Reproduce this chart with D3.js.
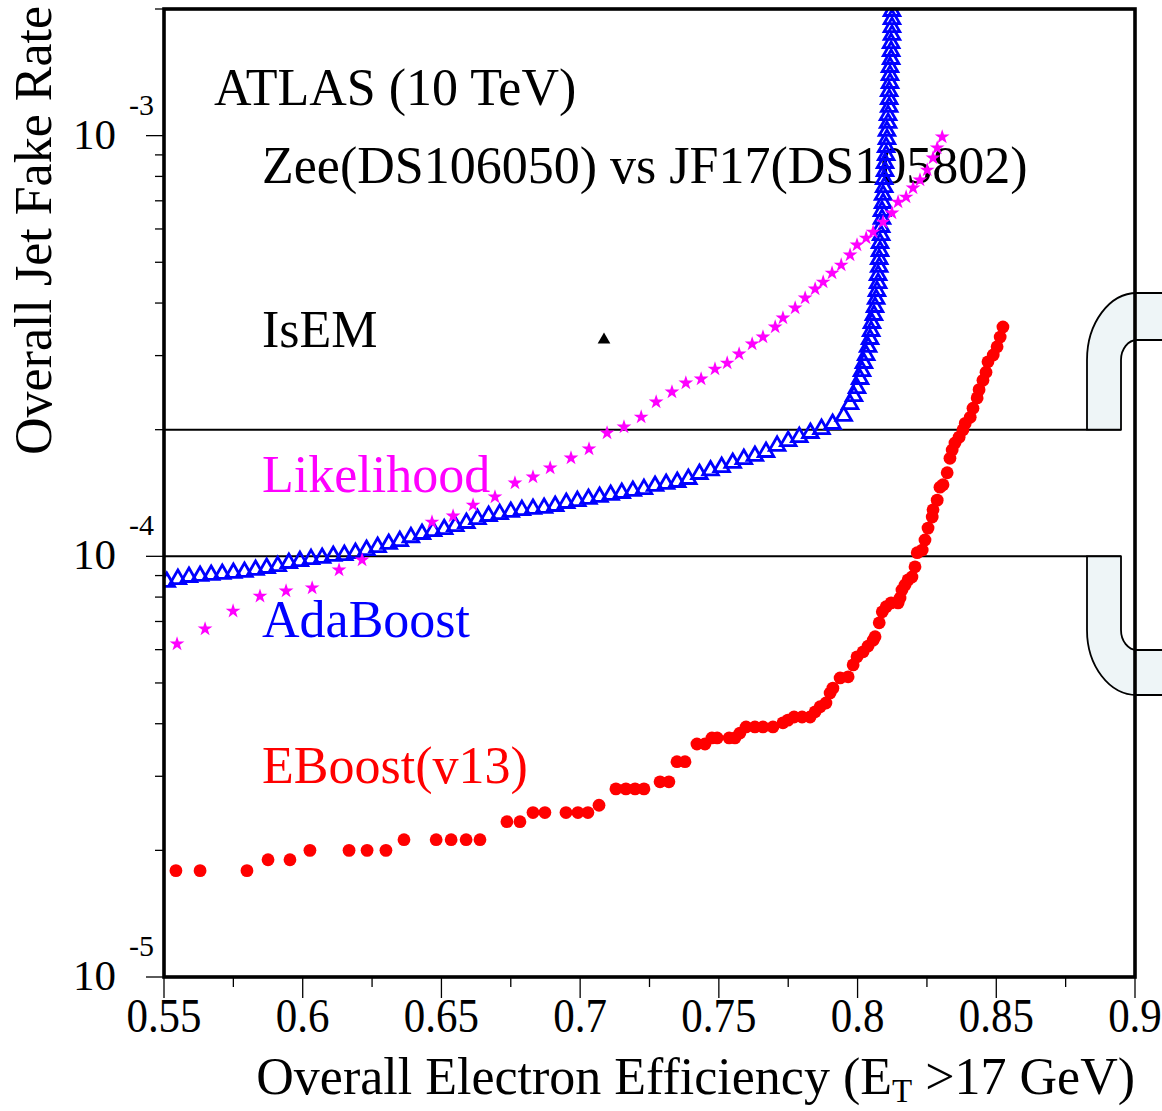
<!DOCTYPE html>
<html>
<head>
<meta charset="utf-8">
<script src="https://cdn.jsdelivr.net/npm/d3@7"></script>
<style>
body{margin:0;background:#fff;}
text{font-family:"Liberation Serif","Times New Roman",serif;}
</style>
</head>
<body>
<script>
var W=1162,H=1111;

// ---- data ----
var xTicks=[0.55,0.6,0.65,0.7,0.75,0.8,0.85,0.9];
var xTickLabels=["0.55","0.6","0.65","0.7","0.75","0.8","0.85","0.9"];
var yDecades=[1e-3,1e-4,1e-5];
var yDecadeExp=["-3","-4","-5"];

var isemEff=[0.7086];
var isemRate=[3.27e-4];

var likeEff=[0.5547,0.5648,0.5749,0.5846,0.5940,0.6034,0.6131,0.6214,0.6466,0.6542,0.6614,0.6693,0.6765,0.6830,0.6892,0.6967,0.7032,0.7097,0.7158,0.7220,0.7274,0.7331,0.7381,0.7436,0.7486,0.7530,0.7573,0.7620,0.7659,0.7703,0.7731,0.7775,0.7811,0.7847,0.7876,0.7908,0.7941,0.7973,0.7998,0.8031,0.8056,0.8092,0.8124,0.8146,0.8175,0.8200,0.8225,0.8251,0.8272,0.8287,0.8305];
var likeRate=[6.19e-5,6.72e-5,7.41e-5,8.04e-5,8.27e-5,8.41e-5,9.28e-5,9.80e-5,1.206e-4,1.247e-4,1.324e-4,1.384e-4,1.494e-4,1.544e-4,1.622e-4,1.713e-4,1.800e-4,1.964e-4,2.030e-4,2.143e-4,2.327e-4,2.458e-4,2.582e-4,2.639e-4,2.787e-4,2.880e-4,3.026e-4,3.197e-4,3.322e-4,3.509e-4,3.686e-4,3.893e-4,4.112e-4,4.320e-4,4.487e-4,4.714e-4,4.925e-4,5.203e-4,5.495e-4,5.709e-4,5.900e-4,6.232e-4,6.547e-4,6.953e-4,7.146e-4,7.507e-4,7.843e-4,8.284e-4,8.848e-4,9.35e-4,9.93e-4];

var adaEff=[0.551,0.555,0.559,0.563,0.567,0.571,0.575,0.579,0.583,0.587,0.591,0.595,0.599,0.603,0.607,0.611,0.615,0.619,0.623,0.627,0.631,0.635,0.639,0.643,0.647,0.651,0.655,0.659,0.663,0.667,0.671,0.675,0.679,0.683,0.687,0.691,0.695,0.699,0.703,0.707,0.711,0.715,0.719,0.723,0.727,0.731,0.735,0.739,0.743,0.747,0.751,0.755,0.759,0.763,0.767,0.771,0.775,0.779,0.783,0.787,0.791,0.795,
 0.7973,0.7987,0.7998,0.8009,0.8016,0.8023,0.8031,0.8038,0.8045,0.8049,0.8052,0.8059,0.8063,0.8067,0.8070,0.8074,0.8074,0.8078,0.8078,0.8081,0.8081,0.8085,0.8085,0.8088,0.8088,0.8092,0.8092,0.8096,0.8096,0.8099,0.8099,0.8103,0.8103,0.8106,0.8106,0.8110,0.8110,0.8114,0.8114,0.8114,0.8117,0.8117,0.8117,0.8121,0.8121,0.8121,0.8124,0.8124,0.8124,0.8124];
var adaRate=[8.69e-5,8.83e-5,8.93e-5,8.98e-5,9.03e-5,9.08e-5,9.13e-5,9.18e-5,9.28e-5,9.38e-5,9.48e-5,9.64e-5,9.74e-5,9.85e-5,9.91e-5,1.002e-4,1.007e-4,1.018e-4,1.035e-4,1.052e-4,1.070e-4,1.087e-4,1.11e-4,1.130e-4,1.148e-4,1.16e-4,1.180e-4,1.20e-4,1.226e-4,1.247e-4,1.26e-4,1.275e-4,1.288e-4,1.296e-4,1.303e-4,1.317e-4,1.339e-4,1.353e-4,1.369e-4,1.384e-4,1.399e-4,1.414e-4,1.430e-4,1.445e-4,1.47e-4,1.486e-4,1.502e-4,1.527e-4,1.569e-4,1.60e-4,1.63e-4,1.667e-4,1.703e-4,1.732e-4,1.77e-4,1.83e-4,1.879e-4,1.92e-4,1.964e-4,2.007e-4,2.063e-4,2.156e-4,
 2.301e-4,2.404e-4,2.512e-4,2.639e-4,2.757e-4,2.881e-4,3.009e-4,3.145e-4,3.285e-4,3.432e-4,3.586e-4,3.747e-4,3.914e-4,4.090e-4,4.272e-4,4.463e-4,4.664e-4,4.873e-4,5.091e-4,5.318e-4,5.556e-4,5.804e-4,6.065e-4,6.338e-4,6.620e-4,6.917e-4,7.227e-4,7.547e-4,7.886e-4,8.239e-4,8.608e-4,8.994e-4,9.396e-4,9.815e-4,1.026e-3,1.072e-3,1.119e-3,1.170e-3,1.222e-3,1.276e-3,1.334e-3,1.393e-3,1.456e-3,1.521e-3,1.589e-3,1.660e-3,1.735e-3,1.812e-3,1.893e-3,1.978e-3];

var ebEff=[0.5543,0.5630,0.5799,0.5875,0.5954,0.6026,0.6167,0.6232,0.6300,0.6365,0.6481,0.6535,0.6589,0.6639,0.6736,0.6783,0.6830,0.6873,0.6949,0.6992,0.7028,0.7068,0.7129,0.7165,0.7198,0.7230,0.7288,0.7320,0.7349,0.7378,0.7421,0.7450,0.7475,0.7494,0.7537,0.7558,0.7576,0.7598,0.7630,0.7659,0.7695,0.7731,0.7749,0.7771,0.7800,0.7829,0.7847,0.7865,0.7886,0.7901,0.7911,0.7937,0.7966,0.7984,0.7998,0.8020,0.8038,0.8056,0.8063,0.8078,0.8089,0.8103,0.8121,0.8146,0.8153,0.8160,0.8171,0.8182,0.8196,0.8207,0.8215,0.8233,0.8243,0.8254,0.8269,0.8272,0.8287,0.8297,0.8308,0.8323,0.8333,0.8341,0.8351,0.8366,0.8380,0.8388,0.8406,0.8416,0.8431,0.8438,0.8452,0.8463,0.8470,0.8489,0.8503,0.8514,0.8524];
var ebRate=[1.79e-5,1.79e-5,1.79e-5,1.90e-5,1.90e-5,2.00e-5,2.00e-5,2.00e-5,2.00e-5,2.12e-5,2.12e-5,2.12e-5,2.12e-5,2.12e-5,2.34e-5,2.34e-5,2.46e-5,2.46e-5,2.46e-5,2.46e-5,2.46e-5,2.56e-5,2.80e-5,2.80e-5,2.80e-5,2.80e-5,2.91e-5,2.91e-5,3.25e-5,3.25e-5,3.58e-5,3.58e-5,3.70e-5,3.70e-5,3.70e-5,3.70e-5,3.80e-5,3.93e-5,3.93e-5,3.93e-5,3.93e-5,4.02e-5,4.08e-5,4.15e-5,4.15e-5,4.15e-5,4.27e-5,4.39e-5,4.48e-5,4.73e-5,4.86e-5,5.14e-5,5.17e-5,5.52e-5,5.77e-5,5.93e-5,6.12e-5,6.32e-5,6.44e-5,6.95e-5,7.38e-5,7.59e-5,7.75e-5,7.75e-5,7.96e-5,8.32e-5,8.55e-5,8.79e-5,8.93e-5,9.44e-5,1.02e-4,1.035e-4,1.094e-4,1.167e-4,1.24e-4,1.29e-4,1.36e-4,1.46e-4,1.48e-4,1.58e-4,1.71e-4,1.79e-4,1.86e-4,1.92e-4,2.00e-4,2.07e-4,2.14e-4,2.25e-4,2.38e-4,2.49e-4,2.62e-4,2.74e-4,2.90e-4,3.01e-4,3.15e-4,3.32e-4,3.51e-4];

var bandLow=1e-4,bandHigh=2e-4;

// ---- layout ----
var L=164,R=1135,T=9,B=977;
var svg=d3.select('body').append('svg').attr('width',W).attr('height',H);
svg.append('rect').attr('width',W).attr('height',H).attr('fill','#fff');

var x=d3.scaleLinear().domain([0.55,0.9]).range([L,R]);
var y=d3.scaleLog().domain([1e-5,2e-3]).range([B,T]);

svg.append('clipPath').attr('id','clip').append('rect')
  .attr('x',L).attr('y',T).attr('width',R-L).attr('height',B-T);

// band lines
[bandHigh,bandLow].forEach(function(v){
  svg.append('line').attr('x1',L).attr('x2',1121).attr('y1',y(v)).attr('y2',y(v))
    .attr('stroke','#000').attr('stroke-width',2);
});

// pipe shapes at the right edge
var yh=y(bandHigh),yl=y(bandLow);
var pipeTop='M1087,'+yh+' L1087,360 A50,67 0 0 1 1137,293 L1165,293 L1165,340 L1137,340 A16,20 0 0 0 1121,360 L1121,'+yh+' Z';
var pipeBot='M1087,'+yl+' L1087,630 A50,65 0 0 0 1137,695 L1165,695 L1165,650 L1137,650 A16,20 0 0 1 1121,630 L1121,'+yl+' Z';
[pipeTop,pipeBot].forEach(function(p){
  svg.append('path').attr('d',p).attr('fill','#eef5f7').attr('stroke','#000').attr('stroke-width',1.8);
});

// annotation text
function label(txt,tx,ty,col){
  svg.append('text').attr('x',tx).attr('y',ty).attr('fill',col).attr('font-size',52).text(txt);
}
label('ATLAS (10 TeV)',214,105,'#000');
label('Zee(DS106050) vs JF17(DS105802)',262,183,'#000');
label('IsEM',262,347,'#000');
label('Likelihood',262,492,'#ff00ff');
label('AdaBoost',262,637,'#0000ff');
label('EBoost(v13)',262,783,'#ff0000');

// markers
var g=svg.append('g').attr('clip-path','url(#clip)');
var tri=d3.symbol().type(d3.symbolTriangle).size(105);
var star=d3.symbol().type(d3.symbolStar).size(68);
var itri=d3.symbol().type(d3.symbolTriangle).size(70);

g.selectAll('.ada').data(d3.range(adaEff.length)).enter().append('path')
  .attr('d',tri)
  .attr('transform',function(i){return 'translate('+x(adaEff[i])+','+y(adaRate[i])+')';})
  .attr('fill','none').attr('stroke','#0000ff').attr('stroke-width',2.8);

g.selectAll('.like').data(d3.range(likeEff.length)).enter().append('path')
  .attr('d',star)
  .attr('transform',function(i){return 'translate('+x(likeEff[i])+','+y(likeRate[i])+')';})
  .attr('fill','#ff00ff');

g.selectAll('.eb').data(d3.range(ebEff.length)).enter().append('circle')
  .attr('cx',function(i){return x(ebEff[i]);})
  .attr('cy',function(i){return y(ebRate[i]);})
  .attr('r',6.4).attr('fill','#ff0000');

g.selectAll('.isem').data(d3.range(isemEff.length)).enter().append('path')
  .attr('d',itri)
  .attr('transform',function(i){return 'translate('+x(isemEff[i])+','+y(isemRate[i])+')';})
  .attr('fill','#000');

// x ticks
var xMinor=d3.range(0.55,0.9001,0.025);
svg.selectAll('.xt').data(xMinor).enter().append('line')
  .attr('x1',function(d){return x(d);}).attr('x2',function(d){return x(d);})
  .attr('y1',B).attr('y2',function(d,i){return B+(i%2===0?21:10);})
  .attr('stroke','#000').attr('stroke-width',1.3);
svg.selectAll('.xl').data(xTicks).enter().append('text')
  .attr('transform',function(d){return 'translate('+x(d)+',1032) scale(1,1.12)';})
  .attr('text-anchor','middle').attr('font-size',43)
  .text(function(d,i){return xTickLabels[i];});

// y ticks
var yMinor=[];
[1e-5,1e-4,1e-3].forEach(function(dec){
  for(var k=1;k<=9;k++){var v=dec*k; if(v<=2e-3+1e-12) yMinor.push({v:v,major:k===1});}
});
svg.selectAll('.yt').data(yMinor).enter().append('line')
  .attr('x1',function(d){return L-(d.major?18:9);}).attr('x2',L)
  .attr('y1',function(d){return y(d.v);}).attr('y2',function(d){return y(d.v);})
  .attr('stroke','#000').attr('stroke-width',1.3);
yDecades.forEach(function(v,i){
  svg.append('text').attr('x',116).attr('y',y(v)+13).attr('text-anchor','end')
    .attr('font-size',43).text('10');
  svg.append('text').attr('x',129).attr('y',y(v)-21)
    .attr('font-size',30).text(yDecadeExp[i]);
});

// frame
svg.append('rect').attr('x',L).attr('y',T).attr('width',R-L).attr('height',B-T)
  .attr('fill','none').attr('stroke','#000').attr('stroke-width',3.6);

// axis titles
var xt=svg.append('text').attr('x',R).attr('y',1094).attr('text-anchor','end').attr('font-size',52);
xt.append('tspan').text('Overall Electron Efficiency (E');
xt.append('tspan').attr('font-size',33).attr('dy',8).text('T');
xt.append('tspan').attr('dy',-8).text(' >17 GeV)');

svg.append('text').attr('transform','translate(51,455) rotate(-90)')
  .attr('font-size',52).text('Overall Jet Fake Rate');
</script>
</body>
</html>
